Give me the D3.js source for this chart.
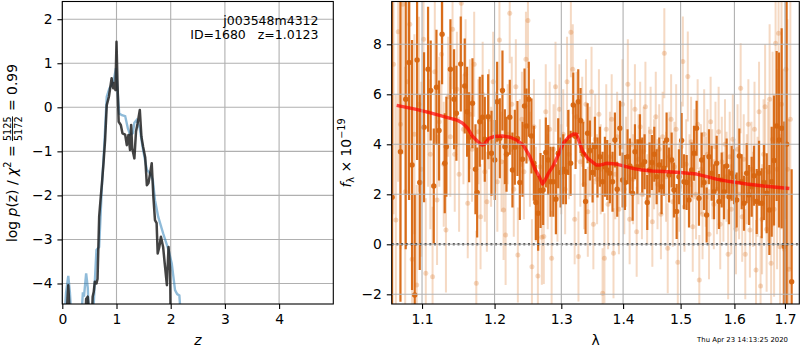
<!DOCTYPE html>
<html>
<head>
<meta charset="utf-8">
<script src="https://cdn.jsdelivr.net/npm/d3@7"></script>
<style>
  html, body { margin: 0; padding: 0; background: #fff; }
  svg { display: block; font-family: "DejaVu Sans", sans-serif; }
  .tick text { font-size: 13.9px; fill: #000; }
</style>
</head>
<body>
<svg id="fig" width="800" height="350"></svg>
<script>
// ---------- Data ----------
// left panel: log p(z) curves, [z, log p]
const pzFit = [
  [0.05,-5],[0.09,-4.5],[0.11,-4.04],[0.13,-4.5],[0.16,-5],[0.42,-5],[0.44,-4.35],[0.47,-4.3],
  [0.49,-4.6],[0.54,-5],[0.56,-4.3],[0.58,-4.19],[0.60,-3.96],[0.63,-4.0],[0.65,-3.9],[0.68,-2.49],
  [0.71,-2.03],[0.73,-1.75],[0.76,-1.27],[0.79,-0.74],[0.82,0.05],[0.86,0.24],[0.91,0.66],[0.94,0.43],
  [0.96,0.55],[0.98,0.39],[1.0,1.49],[1.02,0.47],[1.04,-0.33],[1.08,-0.40],[1.11,-0.59],[1.16,-0.62],
  [1.19,-0.86],[1.22,-0.63],[1.25,-0.97],[1.27,-0.40],[1.29,-0.93],[1.33,-1.16],[1.36,-0.55],[1.39,-0.36],
  [1.43,-0.06],[1.46,-0.67],[1.49,-0.89],[1.53,-1.14],[1.56,-1.77],[1.59,-1.72],[1.62,-1.50],[1.65,-1.27],
  [1.68,-2.03],[1.71,-2.56],[1.74,-2.63],[1.76,-3.32],[1.79,-3.17],[1.82,-2.94],[1.86,-3.17],[1.89,-3.55],
  [1.93,-4.04],[1.96,-3.17],[1.99,-3.7],[2.0,-5]
];
const pzPrior = [
  [0.03,-5],[0.07,-4.2],[0.11,-3.83],[0.14,-4.2],[0.18,-5],[0.34,-5],[0.38,-4.2],[0.40,-4.3],
  [0.44,-3.77],[0.47,-4.1],[0.50,-5],[0.56,-5],[0.59,-4.2],[0.63,-3.24],[0.68,-3.17],[0.73,-1.80],
  [0.77,-0.97],[0.82,0.24],[0.87,0.43],[0.91,0.51],[0.95,0.62],[0.99,0.89],[1.01,0.55],[1.05,-0.14],
  [1.10,-0.18],[1.16,-0.20],[1.21,-0.48],[1.25,-0.62],[1.30,-0.59],[1.33,-0.35],[1.37,-0.29],[1.43,-0.48],
  [1.48,-0.89],[1.56,-1.42],[1.62,-1.50],[1.67,-1.65],[1.71,-2.11],[1.77,-2.49],[1.86,-2.86],[1.96,-3.24],
  [2.02,-3.55],[2.08,-4.15],[2.12,-4.24],[2.16,-4.27],[2.2,-5]
];
const zTicks = [0, 1, 2, 3, 4];
const pTicks = [-4, -3, -2, -1, 0, 1, 2];

// right panel: spectrum points, [lambda, flux, err]
const darkPts = [
  [1.0612,1.88,9],[1.0719,3.7,6],[1.0787,5.8,6],[1.0830,7.27,5.5],[1.0869,3.17,5],[1.0904,-2.03,4],
  [1.0935,7.37,4],[1.0970,2.47,3.5],[1.1027,4.68,3],[1.1080,7.0,2.5],[1.1115,6.15,2],[1.1156,2.33,2.3],
  [1.1192,6.28,2.3],[1.1227,4.55,2],[1.1268,8.4,2],[1.1304,3.24,2],[1.1326,3.9,2],[1.1381,7.0,2],
  [1.1431,5.8,2],[1.1463,5.24,1.9],[1.1523,7.21,1.9],[1.1578,6.33,1.9],[1.1611,5.3,1.8],[1.1639,4.28,1.8],
  [1.1686,5.64,1.8],[1.1728,3.0,1.8],[1.1752,2.07,1.8],[1.1789,4.9,1.8],[1.1827,5.08,1.7],[1.1860,4.2,1.7],
  [1.1908,5.1,1.7],[1.1956,3.64,1.7],[1.2003,3.37,1.6],[1.2037,5.7,1.6],[1.2076,4.24,1.6],[1.2114,6.15,1.6],
  [1.2149,3.9,1.5],[1.2173,3.6,1.5],[1.2221,5.08,1.5],[1.2260,2.97,1.5],[1.2295,3.88,1.5],[1.2334,4.23,1.5],
  [1.2369,2.47,1.5],[1.2409,3.4,1.5],[1.2439,5.53,1.5],[1.2468,4.73,1.5],[1.2503,5.8,1.5],[1.2543,4.33,1.5],
  [1.2579,3.24,1.5],[1.2609,1.67,1.5],[1.2644,1.24,1.5],[1.2680,2.15,1.5],[1.2720,2.17,1.4],[1.2761,3.67,1.4],
  [1.2797,3.37,1.4],[1.2833,2.5,1.4],[1.2875,2.5,1.4],[1.2916,1.8,1.4],[1.2952,3.64,1.4],[1.2989,2.87,1.4],
  [1.3030,3.0,1.4],[1.3072,2.9,1.3],[1.3109,4.07,1.3],[1.3146,3.24,1.3],[1.3188,5.57,1.3],[1.3225,4.31,1.3],
  [1.3267,5.7,1.3],[1.3304,4.95,1.3],[1.3347,3.6,1.3],[1.3384,1.71,1.3],[1.3416,4.44,1.2],[1.3454,3.75,1.2],
  [1.3497,2.87,1.2],[1.3534,3.9,1.2],[1.3577,3.07,1.2],[1.3616,3.5,1.2],[1.3660,2.5,1.2],[1.3698,3.1,1.2],
  [1.3736,2.97,1.2],[1.3780,2.84,1.2],[1.3824,2.5,1.2],[1.3863,4.17,1.1],[1.3902,2.2,1.1],[1.3947,4.64,1.1],
  [1.3992,2.57,1.1],[1.4031,2.47,1.1],[1.4076,3.5,1.1],[1.4115,3.13,1.1],[1.4161,2.04,1.1],[1.4201,3.7,1.1],
  [1.4241,3.1,1.1],[1.4286,4.1,1.1],[1.4326,3.17,1.1],[1.4366,3.3,1.1],[1.4412,1.67,1.1],[1.4452,2.97,1.1],
  [1.4493,3.27,1.1],[1.4534,3.6,1.1],[1.4575,2.7,1.1],[1.4621,3.17,1.1],[1.4662,2.3,1.1],[1.4703,3.04,1.1],
  [1.4750,4.17,1.1],[1.4792,2.77,1.1],[1.4840,3.37,1.1],[1.4881,2.17,1.1],[1.4929,1.31,1.1],[1.4970,2.7,1.1],
  [1.5018,4.15,1.1],[1.5061,2.5,1.1],[1.5109,2.47,1.1],[1.5152,1.77,1.1],[1.5200,2.97,1.1],[1.5243,3.64,1.1],
  [1.5291,4.64,1.1],[1.5334,1.84,1.1],[1.5384,3.37,1.1],[1.5427,2.47,1.1],[1.5476,1.17,1.1],[1.5520,3.5,1.1],
  [1.5569,2.84,1.1],[1.5613,2.1,1.1],[1.5663,3.24,1.1],[1.5707,1.71,1.1],[1.5758,2.57,1.1],[1.5802,2.1,1.1],
  [1.5852,3.13,1.1],[1.5896,1.9,1.1],[1.5947,2.84,1.1],[1.5992,2.7,1.1],[1.6044,1.77,1.1],[1.6095,3.53,1.1],
  [1.6140,2.5,1.1],[1.6185,1.64,1.1],[1.6237,2.84,1.2],[1.6283,1.97,1.2],[1.6335,2.3,1.2],[1.6381,2.74,1.2],
  [1.6434,1.71,1.3],[1.6480,2.84,1.3],[1.6532,1.64,1.4],[1.6578,2.47,1.5],[1.6632,2.04,1.6],[1.6685,1.37,1.8],
  [1.6732,2.5,2.2],[1.6779,3.35,2.6],[1.6832,4.73,3],[1.6879,4.17,3.5],[1.6933,4.64,4],[1.6987,-0.09,5],
  [1.7034,4.0,7],[1.7137,-1.5,4.5]
];
const lightPts = [
  [1.063,7.2,6],[1.066,0.97,5],[1.069,8.5,6],[1.072,4.8,5],[1.075,9.6,6],[1.078,2.1,5],[1.081,6.5,4.5],
  [1.084,8.8,5],[1.087,-0.6,4.5],[1.090,4.4,4],[1.093,-1.63,4],[1.096,5.6,3.5],[1.099,3.0,3.5],[1.102,8.2,3],
  [1.105,-1.16,3],[1.108,5.3,3],[1.111,3.6,3],[1.114,-1.3,2.8],[1.117,6.9,2.8],[1.120,1.77,2.6],[1.123,4.9,2.6],
  [1.126,7.6,2.5],[1.129,3.2,2.5],[1.132,0.57,2.5],[1.135,5.9,2.4],[1.138,4.3,2.4],[1.141,8.6,2.4],[1.144,3.6,2.3],
  [1.147,6.2,2.3],[1.150,2.8,2.3],[1.153,9.64,2.3],[1.156,4.6,2.2],[1.159,6.8,2.2],[1.162,1.64,2.2],[1.165,5.2,2.2],
  [1.168,3.8,2.1],[1.171,7.2,2.1],[1.174,-1.56,2.1],[1.177,4.5,2.1],[1.180,1.1,2.1],[1.183,6.0,2.1],[1.186,2.9,2.0],
  [1.189,1.7,2.0],[1.192,5.0,2.0],[1.195,3.5,2.0],[1.198,6.5,2.0],[1.201,4.1,2.0],[1.204,2.5,2.0],[1.207,8.17,2.0],
  [1.210,3.3,2.0],[1.213,1.37,2.0],[1.216,0.37,2.0],[1.219,4.4,2.0],[1.222,9.24,2.0],[1.225,5.6,1.9],[1.228,2.2,1.9],
  [1.231,6.3,1.9],[1.234,-0.43,1.9],[1.237,3.9,1.9],[1.240,5.0,1.9],[1.243,2.9,1.9],[1.246,7.4,1.9],[1.249,8.95,1.9],
  [1.252,3.4,1.9],[1.255,-0.9,1.9],[1.258,4.7,1.9],[1.261,2.0,1.9],[1.264,-1.27,1.9],[1.267,3.1,1.9],[1.270,0.28,1.9],
  [1.273,0.31,1.9],[1.276,5.3,1.9],[1.279,2.5,1.9],[1.282,4.6,1.9],[1.285,-0.56,1.9],[1.288,3.8,1.8],[1.291,6.3,1.8],
  [1.294,1.9,1.8],[1.297,5.4,1.8],[1.300,3.0,1.8],[1.303,4.4,1.8],[1.306,2.2,1.8],[1.309,6.5,1.8],[1.312,3.6,1.8],
  [1.315,8.48,1.8],[1.318,7.0,1.8],[1.321,1.0,1.8],[1.324,5.1,1.8],[1.327,-0.49,1.8],[1.330,3.3,1.8],[1.333,4.9,1.8],
  [1.336,2.4,1.8],[1.339,5.6,1.8],[1.342,1.3,1.8],[1.345,3.7,1.8],[1.348,6.1,1.8],[1.351,0.8,1.8],[1.354,4.2,1.8],
  [1.357,2.6,1.8],[1.360,5.2,1.8],[1.363,3.0,1.8],[1.366,-1.96,1.8],[1.369,-0.56,1.8],[1.372,4.6,1.8],[1.375,1.6,1.8],
  [1.378,3.5,1.8],[1.381,5.0,1.8],[1.384,-0.36,1.8],[1.387,2.8,1.8],[1.390,4.3,1.8],[1.393,1.4,1.8],[1.396,3.9,1.8],
  [1.399,5.6,1.8],[1.402,2.2,1.8],[1.405,3.3,1.8],[1.408,6.4,1.8],[1.411,1.0,1.8],[1.414,4.0,1.8],[1.417,2.6,1.8],
  [1.420,5.4,1.8],[1.423,0.5,1.8],[1.426,3.4,1.8],[1.429,4.7,1.8],[1.432,2.0,1.8],[1.435,3.7,1.8],[1.438,5.5,1.8],
  [1.441,1.8,1.8],[1.444,2.9,1.8],[1.447,4.5,1.8],[1.450,0.9,1.8],[1.453,3.2,1.8],[1.456,5.1,1.8],[1.459,2.4,1.8],
  [1.462,3.8,1.8],[1.465,1.2,1.8],[1.468,4.3,1.8],[1.471,7.64,1.8],[1.474,2.7,1.8],[1.477,-0.16,1.8],[1.480,3.5,1.8],
  [1.483,5.0,1.8],[1.486,1.7,1.8],[1.489,3.1,1.8],[1.492,4.6,1.8],[1.495,-0.72,1.8],[1.498,2.3,1.8],[1.501,3.9,1.8],
  [1.504,7.31,1.8],[1.507,1.5,1.8],[1.510,3.2,1.8],[1.513,6.71,1.8],[1.516,2.6,1.8],[1.519,4.1,1.8],[1.522,0.7,1.8],
  [1.525,3.6,1.8],[1.528,2.0,1.8],[1.531,4.8,1.8],[1.534,-1.43,1.8],[1.537,3.0,1.8],[1.540,1.2,1.8],[1.543,4.4,1.8],
  [1.546,2.5,1.8],[1.549,3.6,1.8],[1.552,0.4,1.8],[1.555,4.9,1.8],[1.558,2.8,1.8],[1.561,1.6,1.8],[1.564,3.9,1.8],
  [1.567,2.2,1.8],[1.570,4.5,1.8],[1.573,0.8,1.8],[1.576,3.3,1.8],[1.579,1.9,1.8],[1.582,4.0,1.8],[1.585,2.7,1.8],
  [1.588,-0.4,1.8],[1.591,3.5,1.8],[1.594,1.4,1.8],[1.597,4.2,1.8],[1.600,2.4,1.8],[1.603,0.6,1.8],[1.606,3.8,1.8],
  [1.609,2.0,1.8],[1.612,6.24,1.8],[1.615,1.1,1.8],[1.618,3.4,1.8],[1.621,-0.4,1.8],[1.624,2.6,1.8],[1.627,4.8,1.8],
  [1.630,0.57,1.9],[1.633,3.0,1.9],[1.636,1.8,1.9],[1.639,4.6,1.9],[1.642,-1.03,2],[1.645,2.3,2],[1.648,5.3,2],
  [1.651,-1.67,2],[1.654,1.0,2.2],[1.657,3.6,2.2],[1.660,5.5,2.5],[1.663,0.6,2.5],[1.666,2.9,2.8],[1.669,5.8,3],
  [1.672,-0.76,3],[1.675,4.2,3.5],[1.678,1.4,3.5],[1.681,8.04,4],[1.684,3.0,4],[1.687,8.44,4.5],[1.690,-0.1,4.5],
  [1.693,5.6,5],[1.696,2.0,5],[1.699,-0.2,5],[1.702,7.0,6],[1.705,3.0,6],[1.708,-1.0,6],[1.711,5.0,6]
];
// template model, [lambda, flux]
const modelLine = [
  [1.067,5.56],[1.0925,5.40],[1.110,5.27],[1.133,5.08],[1.147,4.97],[1.155,4.84],[1.162,4.64],[1.169,4.31],
  [1.176,4.11],[1.182,3.97],[1.185,4.0],[1.192,4.24],[1.199,4.31],[1.211,4.33],[1.223,4.28],[1.232,4.17],
  [1.242,3.97],[1.252,3.51],[1.259,3.04],[1.266,2.71],[1.271,2.41],[1.275,2.57],[1.280,2.84],[1.288,3.17],
  [1.296,3.61],[1.303,4.04],[1.311,4.28],[1.319,4.41],[1.324,4.40],[1.329,4.04],[1.334,3.71],[1.342,3.44],
  [1.356,3.17],[1.362,3.17],[1.372,3.24],[1.388,3.21],[1.399,3.15],[1.416,3.04],[1.433,2.97],[1.450,2.93],
  [1.469,2.91],[1.499,2.87],[1.529,2.81],[1.548,2.71],[1.566,2.61],[1.5915,2.51],[1.624,2.41],[1.657,2.33],
  [1.683,2.28],[1.709,2.23]
];
const lamTicks = [1.1, 1.2, 1.3, 1.4, 1.5, 1.6, 1.7];
const fluxTicks = [-2, 0, 2, 4, 6, 8];

// ---------- Setup ----------
const svg = d3.select("#fig");
const FS = 13.9, TICK = 4.9, GRID = "#b0b0b0";
const ORANGE = "rgb(215,102,16)";

const L = { x0: 62.3, x1: 333.3, y0: 1.5, y1: 304 };
const R = { x0: 391.7, x1: 799.3, y0: 1.5, y1: 304 };

const zx = d3.scaleLinear().domain([0, 5]).range([L.x0, L.x1]);
const zy = d3.scaleLinear().domain([-4.466, 2.402]).range([L.y1, L.y0]);
const lx = d3.scaleLog().domain([1.0607, 1.7295]).range([R.x0, R.x1]);
const ly = d3.scaleLinear().domain([-2.388, 9.712]).range([R.y1, R.y0]);

function clip(id, b) {
  svg.append("clipPath").attr("id", id).append("rect")
    .attr("x", b.x0).attr("y", b.y0).attr("width", b.x1 - b.x0).attr("height", b.y1 - b.y0);
}
clip("clipL", L); clip("clipR", R);

function grid(g, x, y, xt, yt, b) {
  g.selectAll("line.gx").data(xt).join("line").attr("class", "gx")
    .attr("x1", d => x(d)).attr("x2", d => x(d)).attr("y1", b.y0).attr("y2", b.y1)
    .attr("stroke", GRID).attr("stroke-width", 1.1);
  g.selectAll("line.gy").data(yt).join("line").attr("class", "gy")
    .attr("x1", b.x0).attr("x2", b.x1).attr("y1", d => y(d)).attr("y2", d => y(d))
    .attr("stroke", GRID).attr("stroke-width", 1.1);
}

function axes(x, y, xt, yt, b, xf) {
  const ax = svg.append("g").attr("transform", `translate(0,${b.y1})`)
    .call(d3.axisBottom(x).tickValues(xt).tickSize(TICK).tickPadding(TICK).tickFormat(xf));
  const ay = svg.append("g").attr("transform", `translate(${b.x0},0)`)
    .call(d3.axisLeft(y).tickValues(yt).tickSize(TICK).tickPadding(TICK).tickFormat(d3.format("d")));
  [ax, ay].forEach(a => {
    a.select(".domain").remove();
    a.selectAll(".tick line").attr("stroke", "#000").attr("stroke-width", 1.1);
    a.selectAll(".tick text").attr("font-family", "DejaVu Sans");
  });
  svg.append("rect").attr("x", b.x0).attr("y", b.y0)
    .attr("width", b.x1 - b.x0).attr("height", b.y1 - b.y0)
    .attr("fill", "none").attr("stroke", "#000").attr("stroke-width", 1.1);
}

// ---------- Left: p(z) ----------
const gL = svg.append("g");
grid(gL, zx, zy, zTicks, pTicks, L);
const pzLine = d3.line().x(d => zx(d[0])).y(d => zy(d[1]));
const cL = gL.append("g").attr("clip-path", "url(#clipL)");
cL.append("path").datum(pzPrior).attr("d", pzLine)
  .attr("fill", "none").attr("stroke", "#1f77b4").attr("stroke-opacity", 0.5).attr("stroke-width", 2.4);
cL.append("path").datum(pzFit).attr("d", pzLine)
  .attr("fill", "none").attr("stroke", "#222").attr("stroke-opacity", 0.85).attr("stroke-width", 2.5)
  .attr("stroke-linejoin", "round");
axes(zx, zy, zTicks, pTicks, L, d3.format("d"));

svg.append("text").attr("x", 318.5).attr("y", 25).attr("text-anchor", "end")
  .attr("font-size", 12.5).text("j003548m4312");
svg.append("text").attr("x", 318.5).attr("y", 39).attr("text-anchor", "end")
  .attr("font-size", 12.5).style("white-space", "pre").text("ID=1680   z=1.0123");

svg.append("text").attr("x", (L.x0 + L.x1) / 2).attr("y", 345).attr("text-anchor", "middle")
  .attr("font-size", FS).attr("font-style", "italic").text("z");

// rotated y label built from pieces
function rotLabel(cx, cy, pieces) {
  const g = svg.append("g");
  let cur = 0;
  pieces.forEach(p => {
    if (p.frac) {
      const num = g.append("text").attr("x", cur).attr("y", -5.5).attr("font-size", 9.7).text(p.frac[0]);
      const den = g.append("text").attr("x", cur).attr("y", 5.2).attr("font-size", 9.7).text(p.frac[1]);
      const w = Math.max(num.node().getComputedTextLength(), den.node().getComputedTextLength());
      g.append("line").attr("x1", cur).attr("x2", cur + w).attr("y1", -4).attr("y2", -4)
        .attr("stroke", "#000").attr("stroke-width", 0.9);
      cur += w + 1;
    } else {
      const t = g.append("text").attr("x", cur).attr("y", p.dy || 0)
        .attr("font-size", p.fs || FS).style("white-space", "pre").text(p.t);
      if (p.it) t.attr("font-style", "italic");
      cur += t.node().getComputedTextLength();
    }
  });
  g.attr("transform", `translate(${cx},${cy}) rotate(-90) translate(${-cur / 2},0)`);
}

rotLabel(16.5, 153, [
  { t: "log " }, { t: "p", it: true }, { t: "(z) / " }, { t: "χ", it: true },
  { t: "2", fs: 9.7, dy: -6 }, { t: " = " }, { frac: ["5125", "5172"] }, { t: " = 0.99" }
]);

// ---------- Right: spectrum ----------
const gR = svg.append("g");
const cR = gR.append("g").attr("clip-path", "url(#clipR)");

function errPts(g, pts, op, r, w) {
  g.append("g").selectAll("line").data(pts).join("line")
    .attr("x1", d => lx(d[0])).attr("x2", d => lx(d[0]))
    .attr("y1", d => ly(d[1] - d[2])).attr("y2", d => ly(d[1] + d[2]))
    .attr("stroke", ORANGE).attr("stroke-opacity", op).attr("stroke-width", w);
  g.append("g").selectAll("circle").data(pts).join("circle")
    .attr("cx", d => lx(d[0])).attr("cy", d => ly(d[1])).attr("r", r)
    .attr("fill", ORANGE).attr("fill-opacity", op);
}
errPts(cR, lightPts, 0.25, 2.5, 2);
errPts(cR, darkPts, 0.95, 2.7, 2.2);

grid(gR, lx, ly, lamTicks, fluxTicks, R);

cR.append("line").attr("x1", R.x0).attr("x2", R.x1).attr("y1", ly(0)).attr("y2", ly(0))
  .attr("stroke", "#000").attr("stroke-width", 2).attr("stroke-dasharray", "2,2.7");

cR.append("path").datum(modelLine)
  .attr("d", d3.line().x(d => lx(d[0])).y(d => ly(d[1])))
  .attr("fill", "none").attr("stroke", "red").attr("stroke-opacity", 0.7).attr("stroke-width", 3.4)
  .attr("stroke-linejoin", "round");

axes(lx, ly, lamTicks, fluxTicks, R, d3.format(".1f"));

svg.append("text").attr("x", (R.x0 + R.x1) / 2).attr("y", 345).attr("text-anchor", "middle")
  .attr("font-size", FS).text("λ");

rotLabel(351, 153, [
  { t: "f", it: true }, { t: "λ", fs: 9.7, dy: 3 }, { t: " × 10" },
  { t: "−19", fs: 9.7, dy: -6 }
]);

svg.append("text").attr("x", 788).attr("y", 342).attr("text-anchor", "end")
  .attr("font-size", 6.9).text("Thu Apr 23 14:13:25 2020");
</script>
</body>
</html>
